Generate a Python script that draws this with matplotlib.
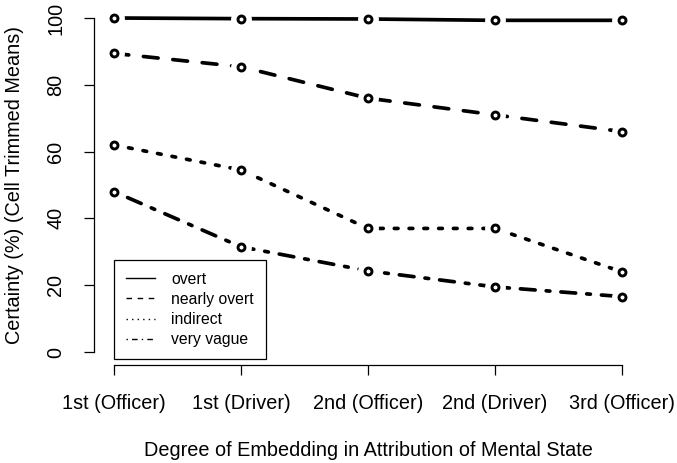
import matplotlib.pyplot as plt
from matplotlib.lines import Line2D
import numpy as np

plt.rcParams['font.family'] = ['Liberation Sans', 'DejaVu Sans']
plt.rcParams['lines.scale_dashes'] = True

categories = ["1st (Officer)", "1st (Driver)", "2nd (Officer)", "2nd (Driver)", "3rd (Officer)"]
overt = [100.0, 99.8, 99.7, 99.3, 99.3]
nearly_overt = [89.4, 85.4, 76.0, 71.0, 66.0]
indirect = [62.0, 54.5, 37.0, 37.0, 24.0]
very_vague = [48.0, 31.5, 24.3, 19.5, 16.6]

series = [("overt", overt), ("nearly overt", nearly_overt),
          ("indirect", indirect), ("very vague", very_vague)]
# R lty patterns (units of line width)
lty = [None, (4, 4), (1, 3), (1, 3, 4, 3)]

fig = plt.figure(figsize=(6.77, 4.63), dpi=100)
ax = fig.add_axes([0.1384, 0.2108, 0.8103, 0.7792])
x = np.arange(1, len(categories) + 1)

for (name, vals), d in zip(series, lty):
    ln, = ax.plot(x, vals, color='black', lw=2.66, solid_capstyle='round',
                  dash_capstyle='round', zorder=2)
    if d is not None:
        ln.set_dashes(d)
    # R type="b": gaps around the points
    ax.plot(x, vals, ls='none', marker='o', ms=15, mfc='white', mec='none', zorder=3)
    ax.plot(x, vals, ls='none', marker='o', ms=5.0, mfc='white', mec='black',
            mew=2.1, zorder=4)

ax.set_xlim(0.84, 5.16)
ax.set_ylim(-4, 104)
for s in ['top', 'right']:
    ax.spines[s].set_visible(False)
ax.spines['left'].set_bounds(0, 100)
ax.spines['bottom'].set_bounds(1, 5)
for s in ['left', 'bottom']:
    ax.spines[s].set_linewidth(0.9)

ax.set_xticks(x)
ax.set_xticklabels(categories)
ax.set_yticks([0, 20, 40, 60, 80, 100])
ax.tick_params(axis='both', direction='out', length=7.5, width=0.9, labelsize=14.3)
ax.tick_params(axis='x', pad=13)
ax.tick_params(axis='y', pad=13)
for lab in ax.get_yticklabels():
    lab.set_rotation(90)
    lab.set_va('center')

ax.set_xlabel("Degree of Embedding in Attribution of Mental State", fontsize=14.3, labelpad=20)
ax.set_ylabel("Certainty (%) (Cell Trimmed Means)", fontsize=14.3, labelpad=16)

handles = []
for (name, vals), d in zip(series, lty):
    h = Line2D([], [], color='black', lw=1.0, dash_capstyle='butt')
    if d is not None:
        h.set_dashes(d)
    handles.append(h)
leg = ax.legend(handles, [n for n, _ in series], loc='lower left',
                bbox_to_anchor=(0.037, 0.0177), borderaxespad=0, fontsize=11.3,
                frameon=True, fancybox=False, edgecolor='black', framealpha=1,
                handlelength=1.85, handletextpad=1.05, labelspacing=0.33,
                borderpad=0.75)
leg.get_frame().set_linewidth(0.9)

fig.savefig('out.png', dpi=100)
